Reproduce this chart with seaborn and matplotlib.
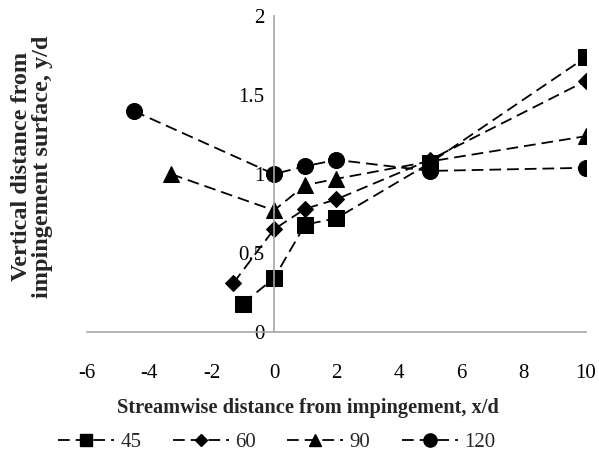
import matplotlib
matplotlib.use("Agg")
import matplotlib.pyplot as plt
from matplotlib.lines import Line2D
import seaborn as sns
import pandas as pd

angles = ["45", "60", "90", "120"]
x_45 = [-1, 0, 1, 2, 5, 10]
y_45 = [0.18, 0.34, 0.68, 0.72, 1.07, 1.74]
x_60 = [-1.3, 0, 1, 2, 5, 10]
y_60 = [0.31, 0.65, 0.78, 0.84, 1.09, 1.59]
x_90 = [-3.3, 0, 1, 2, 5, 10]
y_90 = [1.0, 0.77, 0.93, 0.97, 1.08, 1.24]
x_120 = [-4.5, 0, 1, 2, 5, 10]
y_120 = [1.4, 1.0, 1.05, 1.09, 1.02, 1.04]

xs = [x_45, x_60, x_90, x_120]
ys = [y_45, y_60, y_90, y_120]
markers = {"45": "s", "60": "D", "90": "^", "120": "o"}
msizes = {"45": 11, "60": 8, "90": 11, "120": 11.5}
leg_sizes = {"45": 9, "60": 6.5, "90": 9, "120": 9.5}
DASH = (0, (6.5, 3.3))

rows = []
for a, xx, yy in zip(angles, xs, ys):
    for i, (xv, yv) in enumerate(zip(xx, yy)):
        rows.append({"angle": a, "x": xv, "y": yv, "order": i})
df = pd.DataFrame(rows)

sns.set_style("white")
plt.rcParams["font.family"] = ["Liberation Serif", "DejaVu Serif"]
plt.rcParams["axes.unicode_minus"] = False

fig = plt.figure(figsize=(5.99, 4.63), dpi=100)
ax = fig.add_axes([0.145, 0.283, 0.833, 0.682])

for a in angles:
    sub = df[df["angle"] == a]
    sns.lineplot(data=sub, x="x", y="y", sort=False, ax=ax, color="black",
                 marker=markers[a], markersize=msizes[a], markeredgecolor="black",
                 markerfacecolor="black", linewidth=1.3, legend=False)
for line in ax.get_lines():
    line.set_linestyle(DASH)

ax.set_xlim(-6, 10)
ax.set_ylim(0, 2)
ax.set_xticks([-6, -4, -2, 0, 2, 4, 6, 8, 10])
ax.set_yticks([0, 0.5, 1, 1.5, 2])
ax.set_yticklabels(["0", "0.5", "1", "1.5", "2"])

for s in ["top", "right"]:
    ax.spines[s].set_visible(False)
ax.spines["left"].set_position(("data", 0))
ax.spines["bottom"].set_position(("data", 0))
for s in ["left", "bottom"]:
    ax.spines[s].set_color("#a6a6a6")
    ax.spines[s].set_linewidth(1.2)
ax.tick_params(axis="both", which="both", direction="out", length=5, width=1.2,
               color="#a6a6a6", labelsize=15, labelcolor="black")
ax.tick_params(axis="y", pad=2)
ax.tick_params(axis="x", pad=18)

ax.set_xlabel("Streamwise distance from impingement, x/d", fontsize=14.7,
              fontweight="bold")
ax.xaxis.set_label_coords(0.443, -0.21)
ax.set_ylabel("")
fig.text(0.053, 0.64, "Vertical distance from\nimpingement surface, y/d",
         rotation=90, ha="center", va="center", fontsize=17.5, fontweight="bold",
         linespacing=1.0)

handles = [Line2D([], [], color="black", linestyle=DASH, linewidth=1.3,
                  marker=markers[a], markersize=leg_sizes[a],
                  markerfacecolor="black", markeredgecolor="black")
           for a in angles]
ax.legend(handles, angles, loc="center", bbox_to_anchor=(0.38, -0.35),
          ncol=4, frameon=False, fontsize=15, handlelength=2.7, columnspacing=1.5,
          handletextpad=0.3)

fig.savefig("out.png", dpi=100)
